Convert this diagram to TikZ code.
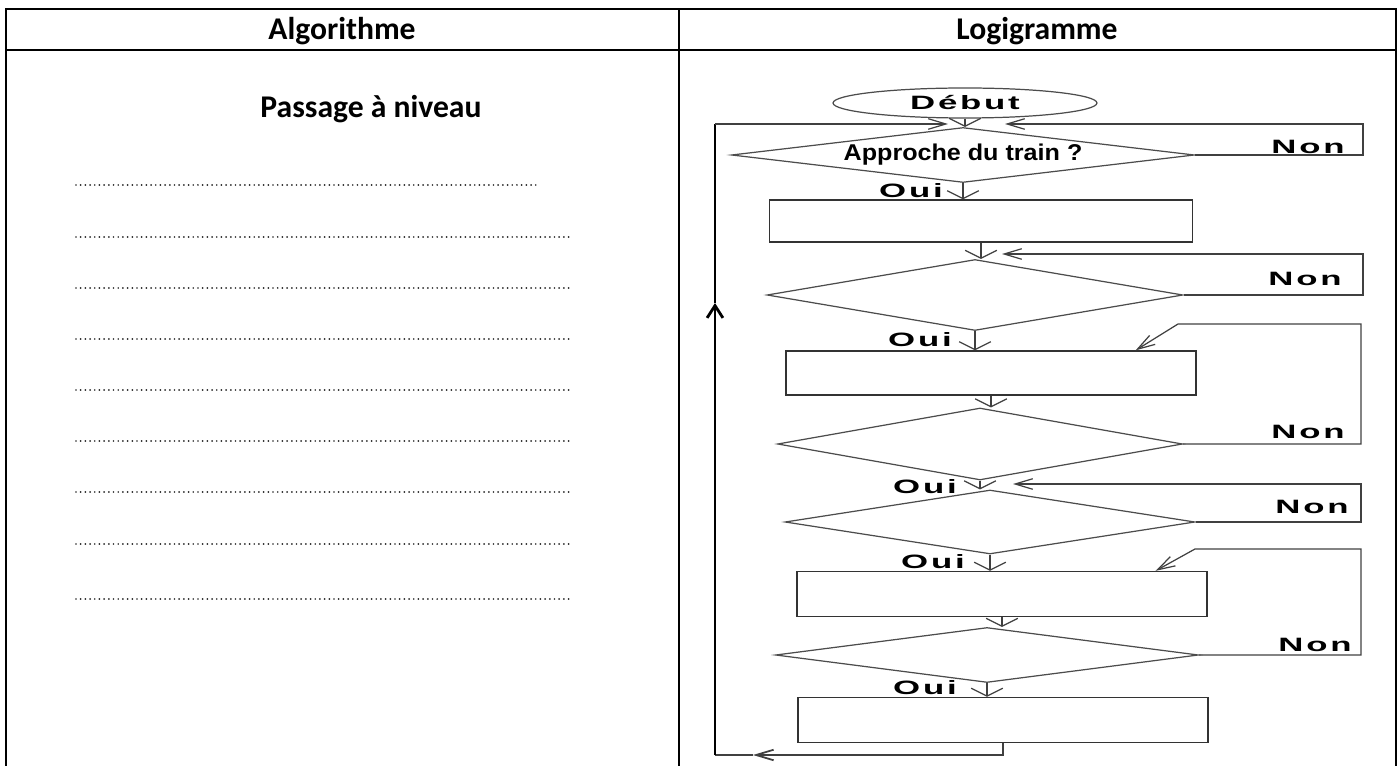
\documentclass[tikz,border=0pt]{standalone}
\usepackage{fontspec}
\usepackage{graphicx}
\setmainfont{Carlito}
\newfontfamily\flowfont[LetterSpace=8]{Liberation Sans}
\newfontfamily\askfont{Liberation Sans}
\usepackage{tikz}
\usetikzlibrary{shapes.geometric, arrows.meta, calc, positioning}

\begin{document}
\begin{tikzpicture}[
		x=0.02cm, y=-0.02cm,
		tbl/.style={line width=1.3pt, black},
		dots/.style={line width=1.1pt, black!85, line cap=round, dash pattern=on 0pt off 2.67pt},
		title/.style={font=\bfseries\fontsize{18}{20}\selectfont, anchor=base, inner sep=0pt},
		flow/.style={draw=black!75, line width=0.7pt},
		decision/.style={diamond, draw=black!70, line width=0.7pt, inner sep=0pt, aspect=8},
		action/.style={rectangle, draw=black!80, line width=0.8pt, inner sep=0pt},
		lbl/.style={font=\flowfont\bfseries\fontsize{11}{11}\selectfont, inner sep=0pt},
		varr/.style={-{Straight Barb[length=4.5pt,width=18pt]}},
		harr/.style={-{Straight Barb[length=10pt,width=6pt]}},
		uarr/.style={-{Straight Barb[length=7pt,width=9pt]}}
		]
	
		\useasboundingbox (0,0) rectangle (1399,766);
	
		% --- Tableau ---
		\draw[tbl] (6,766) -- (6,9) -- (1396,9) -- (1396,766);
		\draw[tbl] (6,50) -- (1396,50);
		\draw[tbl] (679,9) -- (679,766);
		\node[title] (titreA) at (342,40) {Algorithme};
		\node[title] (titreL) at (1037,40) {Logigramme};
		\node[title] (passage) at (371,118) {Passage à niveau};
	
		% --- Lignes a remplir ---
		\draw[dots] (76,185) -- (540,185);
		\foreach \y in {237,288,339,390,441,492,544,599}
			\draw[dots] (76,\y) -- (570,\y);
	
		% --- Logigramme ---
		\node[ellipse, draw=black!70, line width=0.7pt, minimum width=5.28cm, minimum height=0.6cm, inner sep=0pt,
			font=\flowfont\bfseries\fontsize{11}{11}\selectfont] (debut) at (965,103) {\scalebox{1.8}[1]{Début}};
		\node[decision, minimum width=9.26cm, minimum height=1.10cm,
			font=\askfont\bfseries\fontsize{13}{13}\selectfont] (q1) at (963,155) {\scalebox{1.1}[1]{Approche du train ?}};
		\node[action, minimum width=8.46cm, minimum height=0.84cm] (b1) at (981,221) {};
		\node[decision, minimum width=8.32cm, minimum height=1.42cm] (q2) at (975,295) {};
		\node[action, minimum width=8.20cm, minimum height=0.88cm] (b2) at (991,373) {};
		\node[decision, minimum width=8.10cm, minimum height=1.44cm] (q3) at (980,444) {};
		\node[decision, minimum width=8.20cm, minimum height=1.28cm] (q4) at (990,522) {};
		\node[action, minimum width=8.20cm, minimum height=0.90cm] (b3) at (1002,594) {};
		\node[decision, minimum width=8.46cm, minimum height=1.10cm] (q5) at (987,655) {};
		\node[action, minimum width=8.20cm, minimum height=0.90cm] (b4) at (1003,720) {};
	
		\node[lbl] (oui1) at (911,191) {\scalebox{1.8}[1]{Oui}};
		\node[lbl] (oui2) at (920,340) {\scalebox{1.8}[1]{Oui}};
		\node[lbl] (oui3) at (925,487) {\scalebox{1.8}[1]{Oui}};
		\node[lbl] (oui4) at (933,562) {\scalebox{1.8}[1]{Oui}};
		\node[lbl] (oui5) at (925,688) {\scalebox{1.8}[1]{Oui}};
		\node[lbl] (non1) at (1308,147) {\scalebox{1.8}[1]{Non}};
		\node[lbl] (non2) at (1305,279) {\scalebox{1.8}[1]{Non}};
		\node[lbl] (non3) at (1308,432) {\scalebox{1.8}[1]{Non}};
		\node[lbl] (non4) at (1312,507) {\scalebox{1.8}[1]{Non}};
		\node[lbl] (non5) at (1315,645) {\scalebox{1.8}[1]{Non}};
	
		% fleches descendantes
		\draw[flow, varr] (debut.south) -- (debut.south |- q1.north);
		\draw[flow, varr] (q1.south) -- (q1.south |- b1.north);
		\draw[flow, varr] (b1.south) -- (b1.south |- q2.north);
		\draw[flow, varr] (q2.south) -- (q2.south |- b2.north);
		\draw[flow, varr] (b2.south) -- (b2.south |- q3.north);
		\draw[flow, varr] (q3.south) -- (q3.south |- q4.north);
		\draw[flow, varr] (q4.south) -- (q4.south |- b3.north);
		\draw[flow, varr] (b3.south) -- (b3.south |- q5.north);
		\draw[flow, varr] (q5.south) -- (q5.south |- b4.north);
	
		% boucles Non
		\coordinate (r1) at (1363,124);
		\coordinate (in1) at (1005,124);
		\coordinate (r2) at (1363,254);
		\coordinate (in2) at (1002,254);
		\coordinate (r3) at (1361,324);
		\coordinate (k3) at (1178,324);
		\coordinate (r4) at (1361,484);
		\coordinate (in4) at (1013,484);
		\coordinate (r5) at (1361,549);
		\coordinate (k5) at (1195,549);
		\draw[flow, harr] (q1.east) -| (r1) -- (in1);
		\draw[flow, harr] (q2.east) -| (r2) -- (in2);
		\draw[flow, harr] (q3.east) -| (r3) -- (k3) -- ($(b2.north east)+(-61,0)$);
		\draw[flow, harr] (q4.east) -| (r4) -- (in4);
		\draw[flow, harr] (q5.east) -| (r5) -- (k5) -- ($(b3.north east)+(-52,0)$);
	
		% retour au debut
		\coordinate (m1) at (753,755);
		\coordinate (bl) at (715,755);
		\coordinate (m2) at (715,303);
		\coordinate (tl) at (715,124);
		\coordinate (in0) at (948,124);
		\draw[flow, line width=1pt, harr] (b4.south) |- (m1);
		\draw[flow, line width=1pt] (m1) -- (bl);
		\draw[black, line width=1.6pt, uarr] (bl) -- (m2);
		\draw[black, line width=1.6pt] (m2) -- (tl);
		\draw[flow, harr] (tl) -- (in0);
	
	\end{tikzpicture}
\end{document}
